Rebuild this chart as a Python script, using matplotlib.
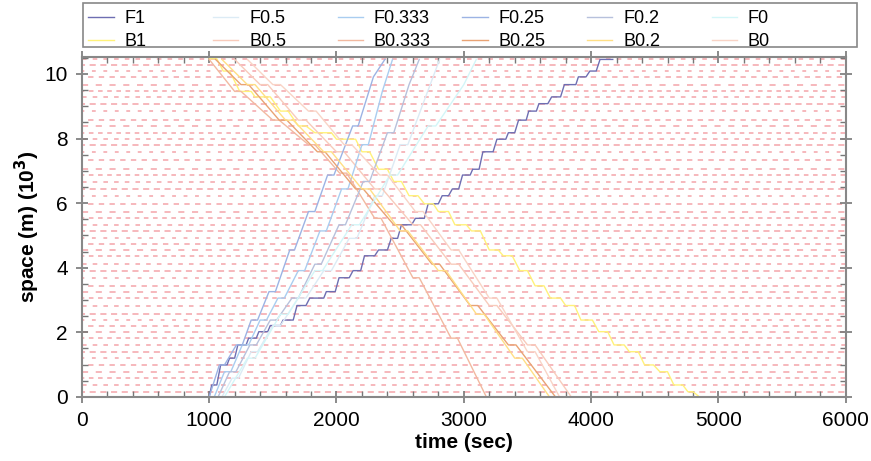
import matplotlib
matplotlib.use("Agg")
import matplotlib.pyplot as plt
from matplotlib.ticker import MultipleLocator
from matplotlib.patches import Rectangle

plt.rcParams['font.family'] = ['Liberation Sans', 'DejaVu Sans']

# signal positions (km)
signals = [10.47, 10.27, 10.09, 9.91, 9.67, 9.46, 9.29, 9.08, 8.85, 8.57, 8.39, 8.18,
           7.98, 7.81, 7.59, 7.35, 7.05, 6.87, 6.67, 6.44, 6.23, 5.98, 5.74, 5.53, 5.33,
           5.14, 4.91, 4.74, 4.55, 4.37, 4.11, 3.91, 3.69, 3.44, 3.26, 3.06, 2.83, 2.56,
           2.38, 2.21, 2.02, 1.82, 1.61, 1.40, 1.20, 0.99, 0.78, 0.58, 0.37, 0.16]

# trajectories: (time s, space km) vertices
F1_t = [1000, 1020, 1060, 1090, 1140, 1160, 1200, 1225, 1290, 1310, 1370, 1390, 1460, 1480, 1560,
        1580, 1660, 1690, 1760, 1790, 1900, 1920, 1990, 2020, 2100, 2130, 2190, 2220, 2300, 2330,
        2400, 2430, 2480, 2510, 2590, 2620, 2690, 2720, 2800, 2830, 2880, 2910, 2960, 2990, 3050,
        3070, 3120, 3150, 3230, 3260, 3330, 3350, 3400, 3430, 3490, 3510, 3570, 3590, 3660, 3690,
        3760, 3790, 3880, 3900, 3960, 3990, 4040, 4070, 4170]
F1_x = [0.0, 0.37, 0.37, 0.99, 0.99, 1.20, 1.20, 1.61, 1.61, 1.82, 1.82, 2.02, 2.02, 2.21, 2.21,
        2.38, 2.38, 2.83, 2.83, 3.06, 3.06, 3.26, 3.26, 3.69, 3.69, 3.91, 3.91, 4.37, 4.37, 4.55,
        4.55, 4.91, 4.91, 5.33, 5.33, 5.53, 5.53, 5.98, 5.98, 6.23, 6.23, 6.44, 6.44, 6.87, 6.87,
        7.05, 7.05, 7.59, 7.59, 7.98, 7.98, 8.18, 8.18, 8.57, 8.57, 8.85, 8.85, 9.08, 9.08, 9.29,
        9.29, 9.67, 9.67, 9.91, 9.91, 10.09, 10.09, 10.45, 10.45]
F05_t = [1100, 1180, 1230, 1330, 1380, 1500, 1560, 1700, 1760, 1900, 1960, 2100, 2160, 2300, 2360, 2500, 2560, 2700, 2810]
F05_x = [0.0, 0.58, 0.58, 1.40, 1.40, 2.21, 2.21, 3.06, 3.06, 3.91, 3.91, 4.91, 4.91, 6.23, 6.23, 7.81, 7.81, 9.29, 10.45]
F0333_t = [1040, 1120, 1170, 1260, 1310, 1400, 1450, 1540, 1590, 1700, 1750, 1870, 1920, 2040, 2090, 2200, 2250, 2360, 2440]
F0333_x = [0.0, 0.78, 0.78, 1.61, 1.61, 2.38, 2.38, 3.06, 3.06, 3.91, 3.91, 5.14, 5.14, 6.44, 6.44, 7.81, 7.81, 9.46, 10.45]
F025_t = [1000, 1080, 1120, 1214, 1260, 1330, 1380, 1470, 1520, 1633, 1670, 1780, 1830, 1930, 1980, 2127, 2170, 2290, 2380]
F025_x = [0.0, 0.99, 0.99, 1.61, 1.61, 2.38, 2.38, 3.26, 3.26, 4.55, 4.55, 5.74, 5.74, 6.87, 6.87, 8.39, 8.39, 9.91, 10.45]
F02_t = [1070, 1160, 1210, 1320, 1370, 1480, 1530, 1650, 1700, 1830, 1880, 2020, 2070, 2210, 2260, 2400, 2450, 2570, 2650]
F02_x = [0.0, 0.78, 0.78, 1.61, 1.61, 2.38, 2.38, 3.06, 3.06, 4.11, 4.11, 5.33, 5.33, 6.67, 6.67, 8.18, 8.18, 9.67, 10.45]
F0_t = [1120, 1300, 1360, 1560, 1620, 1830, 1890, 2120, 2180, 2420, 2480, 2720, 2780, 3000, 3098]
F0_x = [0.0, 1.20, 1.20, 2.56, 2.56, 3.91, 3.91, 5.33, 5.33, 6.87, 6.87, 8.39, 8.39, 9.67, 10.45]
B1_t = [1000, 1060, 1110, 1160, 1240, 1330, 1360, 1480, 1560, 1620, 1700, 1760, 1830, 1960, 2000,
        2150, 2200, 2260, 2330, 2400, 2450, 2510, 2570, 2640, 2690, 2760, 2800, 2880, 2930, 3020,
        3060, 3130, 3200, 3270, 3310, 3380, 3440, 3500, 3560, 3630, 3680, 3760, 3800, 3870, 3920,
        4010, 4060, 4130, 4180, 4260, 4300, 4370, 4420, 4490, 4540, 4600, 4650, 4720, 4760, 4800, 4851]
B1_x = [10.47, 10.47, 10.09, 10.09, 9.46, 9.46, 9.29, 9.29, 8.85, 8.85, 8.39, 8.39, 8.18, 8.18, 7.98,
        7.98, 7.59, 7.59, 7.05, 7.05, 6.67, 6.67, 6.23, 6.23, 5.98, 5.98, 5.74, 5.74, 5.33, 5.33,
        5.14, 5.14, 4.55, 4.55, 4.37, 4.37, 3.91, 3.91, 3.44, 3.44, 3.06, 3.06, 2.83, 2.83, 2.38,
        2.38, 2.02, 2.02, 1.61, 1.61, 1.40, 1.40, 0.99, 0.99, 0.78, 0.78, 0.37, 0.37, 0.16, 0.16, 0.0]
B05_t = [1200, 1400, 1460, 1700, 1760, 2000, 2060, 2300, 2360, 2600, 2660, 2900, 2960, 3200, 3260, 3500, 3560, 3844]
B05_x = [10.45, 9.67, 9.67, 8.57, 8.57, 7.59, 7.59, 6.44, 6.44, 5.33, 5.33, 4.11, 4.11, 2.83, 2.83, 1.61, 1.61, 0.0]
B0333_t = [1000, 1200, 1250, 1500, 1550, 1780, 1830, 2025, 2080, 2300, 2350, 2600, 2650, 2900, 2950, 3177]
B0333_x = [10.45, 9.46, 9.46, 8.57, 8.57, 7.81, 7.81, 6.93, 6.93, 5.53, 5.53, 3.69, 3.69, 1.82, 1.82, 0.0]
B025_t = [1050, 1250, 1310, 1550, 1610, 1850, 1910, 2150, 2210, 2450, 2510, 2750, 2810, 3050, 3110, 3350, 3410, 3720]
B025_x = [10.45, 9.67, 9.67, 8.57, 8.57, 7.59, 7.59, 6.44, 6.44, 5.33, 5.33, 4.11, 4.11, 2.83, 2.83, 1.61, 1.61, 0.0]
B02_t = [1100, 1300, 1360, 1600, 1660, 1900, 1960, 2200, 2260, 2500, 2560, 2800, 2860, 3100, 3160, 3400, 3460, 3673]
B02_x = [10.45, 9.67, 9.67, 8.57, 8.57, 7.59, 7.59, 6.44, 6.44, 5.14, 5.14, 3.91, 3.91, 2.56, 2.56, 1.20, 1.20, 0.0]
B0_t = [1300, 1500, 1560, 1780, 1840, 2060, 2120, 2340, 2400, 2620, 2680, 2900, 2960, 3200, 3260, 3500, 3560, 3752]
B0_x = [10.45, 9.67, 9.67, 8.85, 8.85, 7.81, 7.81, 6.87, 6.87, 5.74, 5.74, 4.55, 4.55, 3.06, 3.06, 1.40, 1.40, 0.0]

series = [
    ("F1", F1_t, F1_x, "#6e6eb2"),
    ("B1", B1_t, B1_x, "#fff27a"),
    ("F0.5", F05_t, F05_x, "#dcebf5"),
    ("B0.5", B05_t, B05_x, "#f8cbbb"),
    ("F0.333", F0333_t, F0333_x, "#a9cdf0"),
    ("B0.333", B0333_t, B0333_x, "#f2b9a0"),
    ("F0.25", F025_t, F025_x, "#9cb3e4"),
    ("B0.25", B025_t, B025_x, "#e9a374"),
    ("F0.2", F02_t, F02_x, "#b7c1dc"),
    ("B0.2", B02_t, B02_x, "#ffdf85"),
    ("F0", F0_t, F0_x, "#d3f6f8"),
    ("B0", B0_t, B0_x, "#f9d4c6"),
]

dash_styles = [(0, (3, 4)), (2, (4, 3)), (1, (2.5, 5)), (3, (3.5, 3.5)), (0, (4, 5)), (1.5, (3, 3))]

fig = plt.figure(figsize=(8.71, 4.61), dpi=100)
ax = fig.add_axes([0.094, 0.139, 0.877, 0.737])

for i, s in enumerate(signals):
    ax.hlines(s, 0, 6000, colors="#f2959b", linewidth=1.1,
              linestyles=dash_styles[i % len(dash_styles)], alpha=0.85, zorder=1)

handles = []
for name, t, x, c in series:
    ln, = ax.plot(t, x, color=c, linewidth=1.0, label=name, zorder=2)
    handles.append(ln)

ax.set_xlim(0, 6000)
ax.set_ylim(0, 10.52)
ax.xaxis.set_major_locator(MultipleLocator(1000))
ax.xaxis.set_minor_locator(MultipleLocator(200))
ax.yaxis.set_major_locator(MultipleLocator(2))
ax.yaxis.set_minor_locator(MultipleLocator(0.5))
ax.tick_params(which="major", direction="inout", length=8, width=1.2, color="#777777",
               top=True, right=True, labelsize=15, pad=6)
ax.tick_params(which="minor", direction="in", length=4, width=1.0, color="#777777",
               top=True, right=True)
for sp in ax.spines.values():
    sp.set_color("#888888")
    sp.set_linewidth(1.5)

ax.set_xlabel("time (sec)", fontsize=15, fontweight="bold", labelpad=2)
ax.set_ylabel("space (m) (10$^\\mathbf{3}$)", fontsize=15, fontweight="bold", labelpad=2)

# legend: frame plus six evenly spaced columns of two entries
fig.patches.append(Rectangle((0.0953, 0.898), 0.889, 0.095, transform=fig.transFigure,
                             facecolor="white", edgecolor="#888888", linewidth=1.2))
col_w = 0.1431
for k in range(6):
    leg = fig.legend(handles=handles[2 * k:2 * k + 2], loc="upper left",
                     bbox_to_anchor=(0.0953 + k * col_w, 0.989), prop={"size": 13},
                     frameon=False, handlelength=1.4, handletextpad=0.6,
                     labelspacing=0.3, borderpad=0.3, borderaxespad=0)

fig.savefig("out.png", dpi=100)
